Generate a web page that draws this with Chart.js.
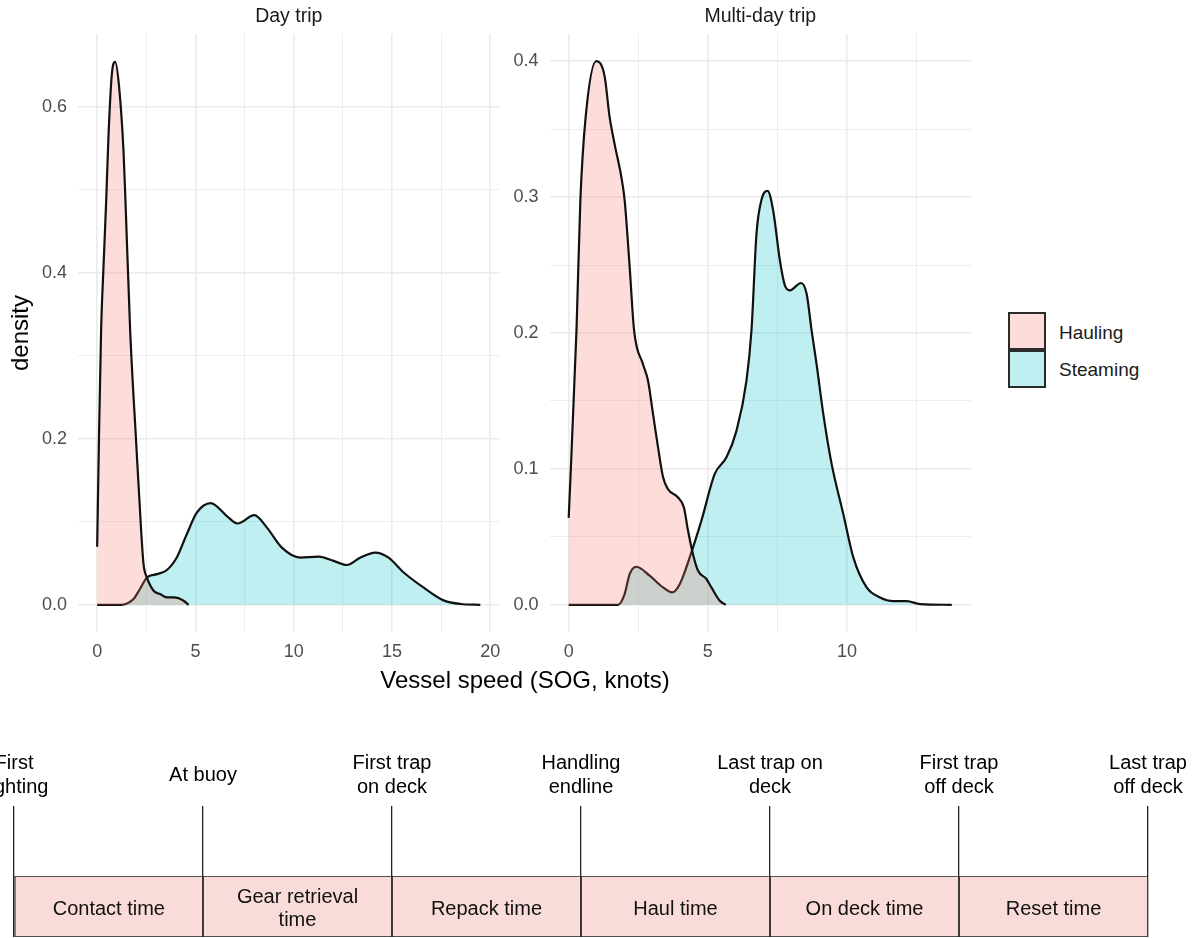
<!DOCTYPE html>
<html lang="en">
<head>
<meta charset="UTF-8">
<title>Vessel speed by activity and haul timeline</title>
<script src="https://cdn.jsdelivr.net/npm/chart.js"></script>
<style>
    body {
        margin: 0;
        width: 1194px;
        height: 938px;
        overflow: hidden;
        position: relative;
        background: #fff;
        font-family: "Liberation Sans", Arial, sans-serif;
    }
    canvas { position: absolute; }
    #dayChart { left: 0; top: 0; }
    #multiChart { left: 500px; top: 0; }
    #timeline { left: -40px; top: 740px; }
    .xtitle {
        position: absolute; left: 275px; width: 500px; top: 666px;
        text-align: center; font-size: 24px; line-height: 28px; color: #000;
    }
    .swatch { position: absolute; left: 1008px; width: 34px; height: 34px; border: 2px solid #2b2b2b; }
    .legend-text { position: absolute; left: 1059px; font-size: 19px; line-height: 22px; color: #1a1a1a; }
</style>
</head>
<body>

<canvas id="dayChart" width="520" height="700"></canvas>
<canvas id="multiChart" width="490" height="700"></canvas>
<div class="xtitle">Vessel speed (SOG, knots)</div>

<!-- legend -->
<div class="swatch" style="top:312px; background:rgba(248,118,109,0.25);"></div>
<div class="swatch" style="top:350px; background:rgba(0,191,196,0.25);"></div>
<div class="legend-text" style="top:322px;">Hauling</div>
<div class="legend-text" style="top:359px;">Steaming</div>

<canvas id="timeline" width="1274" height="198"></canvas>

<script>
    // --- density curves ---
    const dayHaulX = [0, 0.09, 0.2, 0.32, 0.46, 0.58, 0.75, 0.92, 1.12, 1.34, 1.44, 1.68, 1.98, 2.24, 2.36, 2.53, 2.87, 3.2, 3.55, 3.9, 4.4, 4.65];
    const dayHaulY = [0.070, 0.198, 0.33, 0.406, 0.487, 0.567, 0.64, 0.654, 0.623, 0.547, 0.487, 0.33, 0.198, 0.089, 0.049, 0.033, 0.017, 0.013, 0.009, 0.009, 0.005, 0];

    const daySteamX = [0, 1.2, 1.55, 1.85, 2.2, 2.53, 3.04, 3.55, 4.05, 4.56, 5.07, 5.78, 6.6, 7.14, 8.0, 8.64, 9.4, 10.33, 11.27, 12.03, 12.7, 13.4, 14.15, 14.83, 15.6, 16.6, 17.6, 18.5, 19.5];
    const daySteamY = [0, 0, 0.002, 0.007, 0.02, 0.033, 0.037, 0.042, 0.057, 0.085, 0.111, 0.1225, 0.107, 0.098, 0.108, 0.093, 0.069, 0.057, 0.058, 0.053, 0.048, 0.057, 0.063, 0.057, 0.039, 0.021, 0.0057, 0.001, 0];

    const multiHaulX = [0, 0.28, 0.42, 0.61, 0.99, 1.29, 1.47, 1.65, 1.89, 2.01, 2.19, 2.35, 2.67, 2.85, 3.03, 3.21, 3.39, 3.57, 3.93, 4.14, 4.29, 4.47, 4.65, 4.95, 5.13, 5.43, 5.65];
    const multiHaulY = [0.064, 0.202, 0.298, 0.359, 0.400, 0.389, 0.359, 0.339, 0.315, 0.298, 0.249, 0.202, 0.177, 0.165, 0.1405, 0.116, 0.094, 0.085, 0.079, 0.0717, 0.0545, 0.037, 0.025, 0.019, 0.0128, 0.003, 0];

    const multiSteamX = [0, 1.77, 2.01, 2.19, 2.43, 2.91, 3.39, 3.72, 3.99, 4.35, 4.77, 5.25, 5.67, 6.03, 6.39, 6.57, 6.75, 6.93, 7.15, 7.35, 7.59, 7.77, 7.95, 8.35, 8.55, 8.73, 8.91, 9.15, 9.45, 9.87, 10.23, 10.71, 11.19, 11.67, 12.15, 12.63, 13.77];
    const multiSteamY = [0, 0, 0.0079, 0.0226, 0.028, 0.0214, 0.0128, 0.0091, 0.0152, 0.0349, 0.0619, 0.0963, 0.1085, 0.128, 0.165, 0.202, 0.273, 0.298, 0.3046, 0.290, 0.2535, 0.235, 0.2314, 0.2368, 0.229, 0.202, 0.177, 0.1405, 0.1037, 0.0668, 0.0349, 0.0128, 0.0054, 0.0027, 0.0027, 0.0005, 0];

    const seriesNames = ['Hauling', 'Steaming'];

    // --- timeline diagram ---
    const eventPos = [0, 1, 2, 3, 4, 5, 6];
    const eventLabels = [['First', 'sighting'], ['At buoy'], ['First trap', 'on deck'], ['Handling', 'endline'], ['Last trap on', 'deck'], ['First trap', 'off deck'], ['Last trap', 'off deck']];
    const phaseLabels = [['Contact time'], ['Gear retrieval', 'time'], ['Repack time'], ['Haul time'], ['On deck time'], ['Reset time']];

    const FONT = '"Liberation Sans", Arial, sans-serif';
    const haulFill = 'rgba(248, 118, 109, 0.25)';
    const steamFill = 'rgba(0, 191, 196, 0.25)';

    const toPoints = (xs, ys) => xs.map((x, i) => ({x: x, y: ys[i]}));
    const isMultiple = (v, step) => Math.abs(v / step - Math.round(v / step)) < 1e-6;

    function densityDataset(label, xs, ys, fill) {
        return {
            label: label,
            data: toPoints(xs, ys),
            fill: 'origin',
            backgroundColor: fill,
            borderColor: '#111',
            borderWidth: 2.2,
            pointRadius: 0,
            cubicInterpolationMode: 'monotone'
        };
    }

    // facet strip title, centred over the panel
    const facetTitle = {
        id: 'facetTitle',
        afterDraw(chart, args, opts) {
            const {ctx, chartArea} = chart;
            ctx.save();
            ctx.font = '19.5px ' + FONT;
            ctx.fillStyle = '#1a1a1a';
            ctx.textAlign = 'center';
            ctx.textBaseline = 'middle';
            ctx.fillText(opts.text, (chartArea.left + chartArea.right) / 2, chartArea.top - 17);
            ctx.restore();
        }
    };

    function panelOptions(cfg) {
        return {
            responsive: false,
            animation: false,
            layout: {padding: {top: 34, right: cfg.padRight, bottom: 28, left: 0}},
            plugins: {
                legend: {display: false},
                tooltip: {enabled: false},
                facetTitle: {text: cfg.title}
            },
            scales: {
                x: {
                    type: 'linear',
                    min: cfg.xMin, max: cfg.xMax,
                    border: {display: false},
                    grid: {
                        color: '#EBEBEB',
                        drawTicks: false,
                        lineWidth: ctx => isMultiple(ctx.tick.value, 5) ? 1.6 : 0.9
                    },
                    ticks: {
                        stepSize: 2.5,
                        includeBounds: false,
                        autoSkip: false,
                        maxRotation: 0,
                        padding: 9,
                        color: '#4D4D4D',
                        font: {family: FONT, size: 18},
                        callback: v => isMultiple(v, 5) ? String(Math.round(v)) : ''
                    },
                    afterFit: s => { s.height = 40; }
                },
                y: {
                    type: 'linear',
                    min: cfg.yMin, max: cfg.yMax,
                    border: {display: false},
                    grid: {
                        color: '#EBEBEB',
                        drawTicks: false,
                        lineWidth: ctx => isMultiple(ctx.tick.value, cfg.yMajor) ? 1.6 : 0.9
                    },
                    ticks: {
                        stepSize: cfg.yMajor / 2,
                        includeBounds: false,
                        autoSkip: false,
                        padding: 11,
                        color: '#4D4D4D',
                        font: {family: FONT, size: 18},
                        callback: v => isMultiple(v, cfg.yMajor) ? v.toFixed(1) : ''
                    },
                    title: {
                        display: cfg.yTitle !== '',
                        text: cfg.yTitle,
                        color: '#000',
                        font: {family: FONT, size: 24},
                        padding: {top: 7, bottom: 0}
                    },
                    afterFit: s => { s.width = cfg.yWidth; }
                }
            }
        };
    }

    new Chart(document.getElementById('dayChart'), {
        type: 'line',
        data: {
            datasets: [
                densityDataset(seriesNames[0], dayHaulX, dayHaulY, haulFill),
                densityDataset(seriesNames[1], daySteamX, daySteamY, steamFill)
            ]
        },
        options: panelOptions({
            title: 'Day trip', yTitle: 'density',
            xMin: -0.975, xMax: 20.475, yMin: -0.0327, yMax: 0.6877, yMajor: 0.2,
            yWidth: 78, padRight: 20.5
        }),
        plugins: [facetTitle]
    });

    new Chart(document.getElementById('multiChart'), {
        type: 'line',
        data: {
            datasets: [
                densityDataset(seriesNames[0], multiHaulX, multiHaulY, haulFill),
                densityDataset(seriesNames[1], multiSteamX, multiSteamY, steamFill)
            ]
        },
        options: panelOptions({
            title: 'Multi-day trip', yTitle: '',
            xMin: -0.69, xMax: 14.46, yMin: -0.02, yMax: 0.42, yMajor: 0.1,
            yWidth: 49.5, padRight: 19
        }),
        plugins: [facetTitle]
    });

    // text inside each phase box
    const phaseText = {
        id: 'phaseText',
        afterDatasetsDraw(chart) {
            const {ctx} = chart;
            const meta = chart.getDatasetMeta(0);
            ctx.save();
            ctx.font = '20px ' + FONT;
            ctx.fillStyle = '#111';
            ctx.textAlign = 'center';
            ctx.textBaseline = 'middle';
            meta.data.forEach((bar, i) => {
                const lines = phaseLabels[i];
                const cx = (bar.x + bar.base) / 2;
                lines.forEach((line, j) => {
                    ctx.fillText(line, cx, bar.y + 2.5 + (j - (lines.length - 1) / 2) * 23);
                });
            });
            ctx.restore();
        }
    };

    new Chart(document.getElementById('timeline'), {
        type: 'bar',
        data: {
            labels: ['phase'],
            datasets: [{
                data: phaseLabels.map((p, i) => ({x: [eventPos[i], eventPos[i + 1]], y: 'phase'})),
                backgroundColor: '#F9DCDA',
                borderColor: '#222',
                borderWidth: 1.2,
                borderSkipped: false,
                categoryPercentage: 1,
                barPercentage: 1
            }]
        },
        options: {
            indexAxis: 'y',
            responsive: false,
            animation: false,
            layout: {padding: {top: 0, right: 86, bottom: 1, left: 54}},
            plugins: {legend: {display: false}, tooltip: {enabled: false}},
            scales: {
                x: {
                    type: 'linear',
                    position: 'top',
                    min: eventPos[0], max: eventPos[eventPos.length - 1],
                    border: {display: false},
                    grid: {color: '#222', tickColor: '#222', lineWidth: 1.3, tickLength: 70},
                    ticks: {
                        stepSize: 1,
                        autoSkip: false,
                        maxRotation: 0,
                        crossAlign: 'center',
                        padding: 19,
                        color: '#000',
                        font: {family: FONT, size: 20, lineHeight: 1.2},
                        callback: v => eventLabels[eventPos.indexOf(v)]
                    },
                    afterFit: s => { s.height = 136; }
                },
                y: {
                    type: 'category',
                    display: false
                }
            }
        },
        plugins: [phaseText]
    });
</script>

</body>
</html>
